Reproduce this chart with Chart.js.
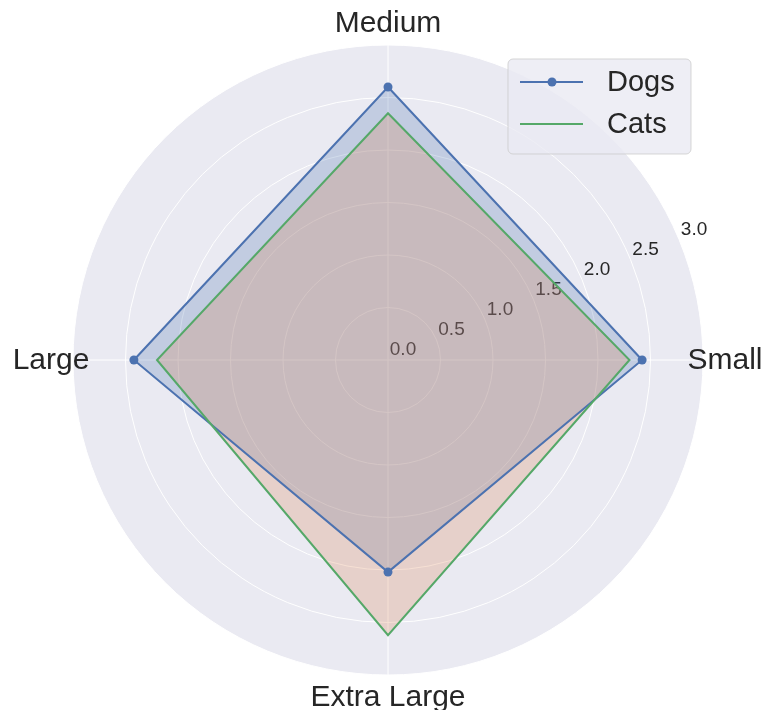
<!DOCTYPE html>
<html>
<head>
<meta charset="utf-8">
<script src="https://cdn.jsdelivr.net/npm/chart.js@4.4.0/dist/chart.umd.min.js"></script>
<style>
  html, body { margin: 0; padding: 0; background: #ffffff; }
  #wrap { width: 765px; height: 710px; }
</style>
</head>
<body>
<div id="wrap"><canvas id="radar" width="765" height="710"></canvas></div>
<script>
// categories in clockwise order starting from the top
const categories = ['Medium', 'Small', 'Extra Large', 'Large'];
const dogsValues = [2.6, 2.42, 2.02, 2.42];
const catsValues = [2.35, 2.3, 2.62, 2.2];
const tickValues = [0, 0.5, 1.0, 1.5, 2.0, 2.5, 3.0];

const FONT = '"Liberation Sans", Arial, sans-serif';
const TEXT = '#262626';
const BLUE = '#4C72B0';
const GREEN = '#55A868';

// tick labels sit along the 22.5 degree ray, below the fills
const tickLabelPlugin = {
    id: 'tickLabels',
    beforeDatasetsDraw(chart) {
        const scale = chart.scales.r;
        const ctx = chart.ctx;
        const a = -22.5 * Math.PI / 180;
        ctx.save();
        ctx.font = '19px ' + FONT;
        ctx.fillStyle = TEXT;
        ctx.textAlign = 'center';
        ctx.textBaseline = 'middle';
        tickValues.forEach(v => {
            const d = scale.getDistanceFromCenterForValue(v);
            const x = scale.xCenter + d * Math.cos(a) + 15;
            const y = scale.yCenter + d * Math.sin(a) - 10;
            ctx.fillText(v.toFixed(1), x, y);
        });
        ctx.restore();
    }
};

// category labels centred just outside the circle, plus the legend box
const overlayPlugin = {
    id: 'overlay',
    afterDraw(chart) {
        const scale = chart.scales.r;
        const ctx = chart.ctx;
        ctx.save();
        ctx.font = '30px ' + FONT;
        ctx.fillStyle = TEXT;
        ctx.textAlign = 'center';
        ctx.textBaseline = 'middle';
        categories.forEach((label, i) => {
            const p = scale.getPointPosition(i, scale.drawingArea + 22);
            ctx.fillText(label, p.x, p.y + 1);
        });

        // legend
        const bx = 508, by = 59, bw = 183, bh = 95;
        ctx.beginPath();
        ctx.roundRect(bx, by, bw, bh, 5);
        ctx.fillStyle = 'rgba(234,234,242,0.8)';
        ctx.fill();
        ctx.strokeStyle = 'rgba(204,204,204,0.8)';
        ctx.lineWidth = 1;
        ctx.stroke();

        const entries = chart.data.datasets.filter(ds => ds.inLegend);
        entries.forEach((ds, i) => {
            const y = by + 23 + i * 42;
            ctx.beginPath();
            ctx.moveTo(520, y);
            ctx.lineTo(583, y);
            ctx.strokeStyle = ds.borderColor;
            ctx.lineWidth = 2;
            ctx.stroke();
            if (ds.pointRadius > 0) {
                ctx.beginPath();
                ctx.arc(552, y, ds.pointRadius, 0, Math.PI * 2);
                ctx.fillStyle = ds.borderColor;
                ctx.fill();
            }
            ctx.fillStyle = TEXT;
            ctx.font = '29px ' + FONT;
            ctx.textAlign = 'left';
            ctx.fillText(ds.label, 607, y + 1);
        });
        ctx.restore();
    }
};

// fills go under both outlines, like matplotlib's patch/line zorder
new Chart(document.getElementById('radar'), {
    type: 'radar',
    data: {
        labels: categories,
        datasets: [
            {
                label: 'Dogs',
                inLegend: true,
                data: dogsValues,
                borderColor: BLUE,
                borderWidth: 2,
                pointRadius: 4.5,
                pointBackgroundColor: BLUE,
                pointBorderWidth: 0,
                fill: false,
                order: 1
            },
            {
                label: 'Cats',
                inLegend: true,
                data: catsValues,
                borderColor: GREEN,
                borderWidth: 2,
                pointRadius: 0,
                fill: false,
                order: 0
            },
            {
                label: 'Dogs fill',
                data: dogsValues,
                borderWidth: 0,
                borderColor: 'rgba(0,0,0,0)',
                backgroundColor: 'rgba(76,114,176,0.25)',
                pointRadius: 0,
                fill: true,
                order: 3
            },
            {
                label: 'Cats fill',
                data: catsValues,
                borderWidth: 0,
                borderColor: 'rgba(0,0,0,0)',
                backgroundColor: 'rgba(221,132,82,0.25)',
                pointRadius: 0,
                fill: true,
                order: 2
            }
        ]
    },
    options: {
        responsive: false,
        animation: false,
        layout: { padding: { left: 73, right: 62, top: 45, bottom: 35 } },
        plugins: {
            legend: { display: false },
            tooltip: { enabled: false }
        },
        elements: { line: { tension: 0 } },
        scales: {
            r: {
                min: 0,
                max: 3,
                startAngle: 0,
                backgroundColor: '#EAEAF2',
                ticks: { display: false, stepSize: 0.5 },
                pointLabels: { display: false },
                grid: { circular: true, color: '#ffffff', lineWidth: 1 },
                angleLines: { color: '#ffffff', lineWidth: 1 }
            }
        }
    },
    plugins: [tickLabelPlugin, overlayPlugin]
});
</script>
</body>
</html>
